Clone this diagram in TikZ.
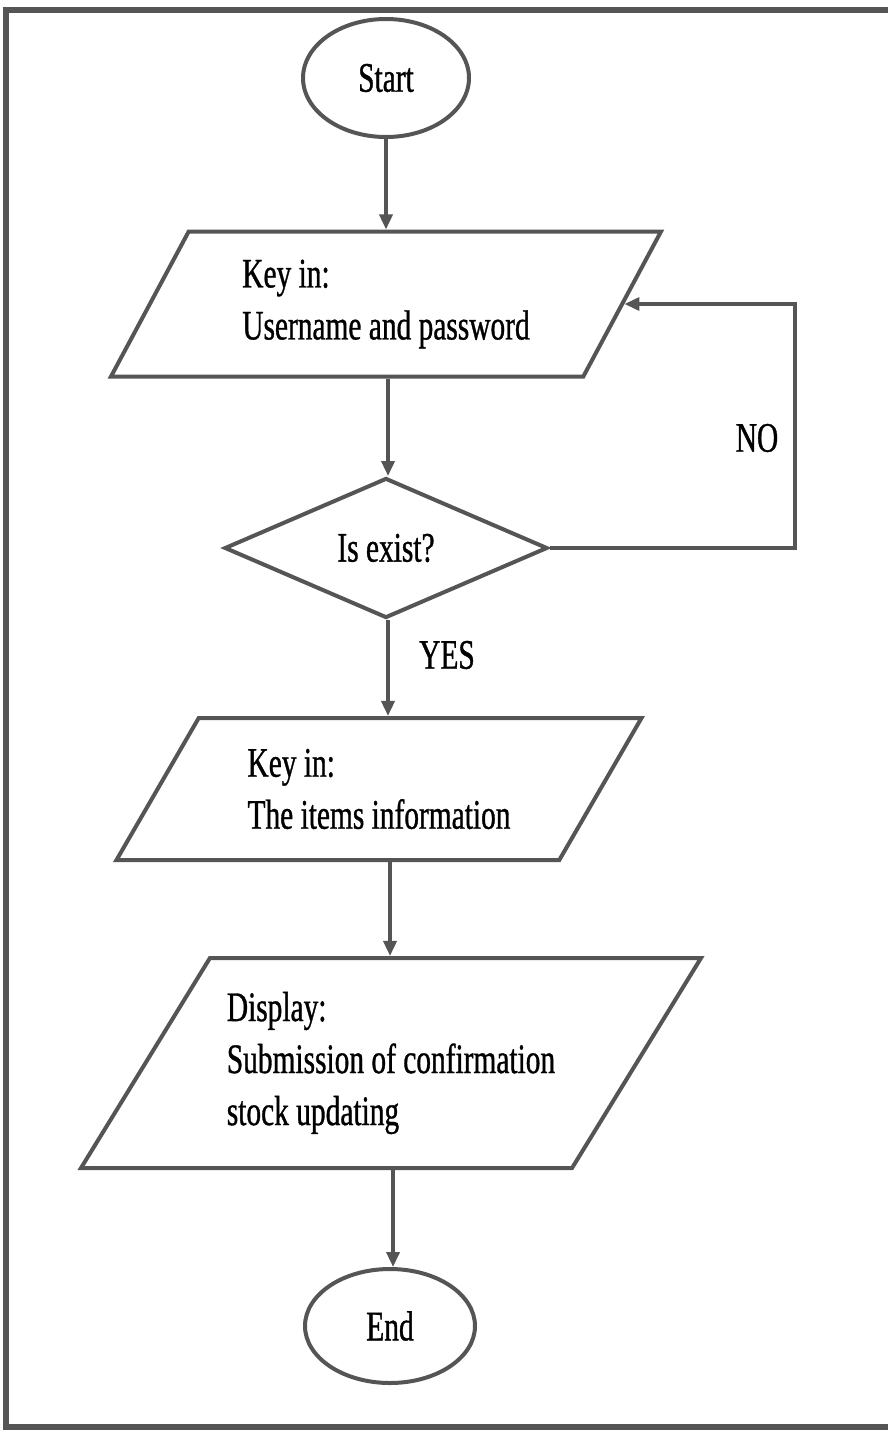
\documentclass[tikz,border=0pt]{standalone}
\usepackage{fontspec}
\setmainfont[FakeStretch=0.7,FakeBold=0.8]{Liberation Serif}
\usetikzlibrary{shapes.geometric,arrows.meta}

\definecolor{ink}{HTML}{555555}

\begin{document}
\begin{tikzpicture}[x=1pt,y=-1pt,
  every node/.style={font=\fontsize{42}{52}\selectfont},
  term/.style={ellipse,draw=ink,line width=4pt,inner sep=0pt},
  io/.style={trapezium,trapezium left angle=#1,trapezium right angle={180-#1},
    trapezium stretches body,draw=ink,line width=4pt,align=left,inner sep=0pt},
  decision/.style={diamond,draw=ink,line width=4pt,inner sep=0pt},
  flow/.style={draw=ink,line width=3.5pt,-{Triangle[length=15pt,width=13pt]}},
  frame/.style={draw=ink,line width=6pt},
]
\useasboundingbox (0,0) rectangle (888,1433);
\fill[white] (0,0) rectangle (888,1433);

% outer frame (right side runs past the page edge)
\draw[frame] (895,10) -- (6,10) -- (6,1427) -- (895,1427);

% flowchart nodes
\node[term,minimum width=166pt,minimum height=118pt] (start) at (386,78) {Start};
\node[io=48.8,minimum width=550pt,minimum height=145pt] (p1) at (386,304)
  {Key in:\\Username and password};
\node[decision,minimum width=323pt,minimum height=140pt] (dia) at (386,548) {Is exist?};
\node[io=44.3,minimum width=525pt,minimum height=142pt] (p2) at (379,789)
  {Key in:\\The items information};
\node[io=47.8,minimum width=620pt,minimum height=210pt] (p3) at (391,1063)
  {Display:\\Submission of confirmation\\stock updating};
\node[term,minimum width=170pt,minimum height=114pt] (end) at (390,1326) {End};

% branch labels
\node (no) at (757,438) {NO};
\node (yes) at (447,655) {YES};

% connectors
\coordinate (loopR) at (795,548);
\draw[flow] (start.south) -- (start.south |- p1.north);
\draw[flow] ([xshift=2pt]p1.south) -- ([xshift=2pt]p1.south |- dia.north);
\draw[flow] ([xshift=2pt]dia.south) -- ([xshift=2pt]dia.south |- p2.north);
\draw[flow] ([xshift=11pt]p2.south) -- ([xshift=11pt]p2.south |- p3.north);
\draw[flow] ([xshift=2pt]p3.south) -- ([xshift=2pt]p3.south |- end.north);
\draw[flow] (dia.east) -- (loopR) |- (p1.east);
\end{tikzpicture}
\end{document}
